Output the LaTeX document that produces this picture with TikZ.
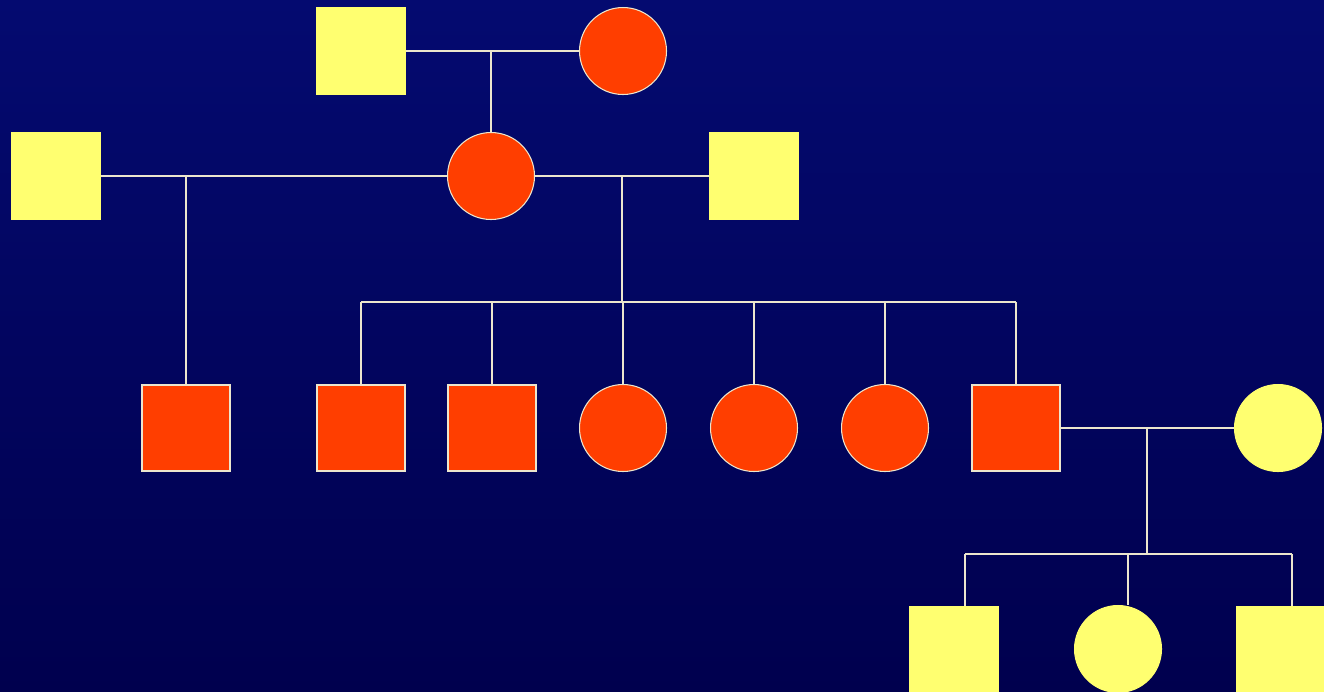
\documentclass[tikz,border=0pt]{standalone}
\usetikzlibrary{calc, positioning}

\definecolor{affected}{RGB}{255,62,0}
\definecolor{unaffected}{RGB}{255,255,112}
\definecolor{bgtop}{RGB}{4,10,112}
\definecolor{bgbottom}{RGB}{0,0,78}
\definecolor{linecol}{RGB}{236,230,205}

\begin{document}
\begin{tikzpicture}[
    x=0.02cm, y=-0.02cm,
    male/.style={
        rectangle, inner sep=0pt,
        minimum width=1.76cm, minimum height=1.72cm,
        draw=linecol, line width=0.6pt
    },
    female/.style={
        circle, inner sep=0pt,
        minimum size=1.74cm,
        draw=linecol, line width=0.6pt
    },
    aff/.style={fill=affected},
    unaff/.style={fill=unaffected, draw=unaffected},
    link/.style={draw=linecol, line width=1.2pt}
]

% Background
\clip (0,0) rectangle (1324,691);
\shade[top color=bgtop, bottom color=bgbottom] (0,0) rectangle (1324,691);

% Generation I
\node[male, unaff] (gpa) at (361,51) {};
\node[female, aff] (gma) at (623,51) {};

% Generation II
\node[male, unaff] (hub1) at (56,176) {};
\node[female, aff] (mom) at (491,176) {};
\node[male, unaff] (hub2) at (754,176) {};

% Generation III
\node[male, aff] (half) at (186,428) {};
\node[male, aff] (k1) at (361,428) {};
\node[male, aff] (k2) at (492,428) {};
\node[female, aff] (k3) at (623,428) {};
\node[female, aff] (k4) at (754,428) {};
\node[female, aff] (k5) at (885,428) {};
\node[male, aff] (k6) at (1016,428) {};
\node[female, unaff] (wife) at (1278,428) {};

% Generation IV
\node[male, unaff] (g1) at (954,650) {};
\node[female, unaff] (g2) at (1118,649) {};
\node[male, unaff] (g3) at (1280,650) {};

% Generation I -> II
\draw[link] (gpa) -- (gma);
\draw[link] (mom.north |- gpa) -- (mom.north);

% First marriage
\draw[link] (hub1) -- (mom);
\draw[link] (half.north) -- (half |- mom);

% Second marriage
\draw[link] (mom) -- (hub2);
\coordinate (sib2) at (622,302);
\draw[link] (sib2 |- mom) -- (sib2);
\draw[link] (k1 |- sib2) -- (k6 |- sib2);
\foreach \k in {k1,k2,k3,k4,k5,k6}
    \draw[link] (\k |- sib2) -- (\k.north);

% Third marriage
\draw[link] (k6) -- (wife);
\coordinate (sib3) at (1147,554);
\draw[link] (sib3 |- wife) -- (sib3);
\coordinate (d1) at (965,554);
\coordinate (d2) at (1128,554);
\coordinate (d3) at (1292,554);
\draw[link] (d1) -- (d3);
\draw[link] (d1) -- (d1 |- g1.north);
\draw[link] (d2) -- (d2 |- g2.north);
\draw[link] (d3) -- (d3 |- g3.north);

\end{tikzpicture}
\end{document}
